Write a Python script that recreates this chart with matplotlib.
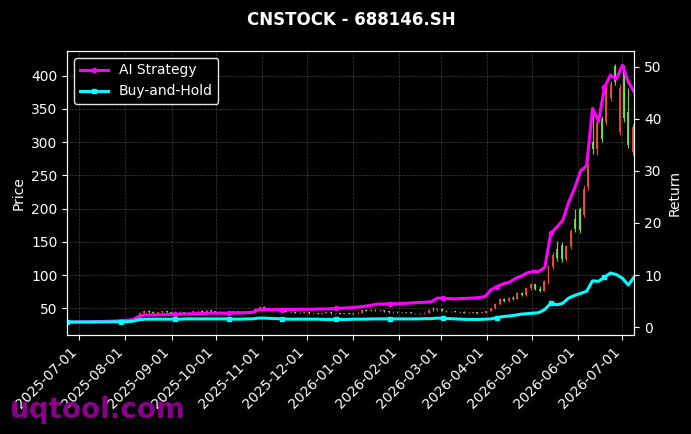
import matplotlib
matplotlib.use('Agg')
import matplotlib.pyplot as plt
import matplotlib.dates as mdates
import numpy as np
import pandas as pd

# cumulative return curves, every ~4 days (2025-06-23 .. 2026-07-09)
ai_strategy = [1.0, 1.0, 1.02, 1.05, 1.05, 1.1, 1.1, 1.15, 1.2, 1.25,
               1.35, 1.5, 2.1, 2.35, 2.35, 2.4, 2.4, 2.45, 2.5, 2.5,
               2.55, 2.6, 2.6, 2.65, 2.7, 2.7, 2.7, 2.7, 2.75, 2.75,
               2.8, 2.85, 3.35, 3.4, 3.4, 3.4, 3.4, 3.4, 3.4, 3.45,
               3.45, 3.45, 3.5, 3.5, 3.55, 3.6, 3.65, 3.7, 3.8, 3.9,
               4.05, 4.25, 4.45, 4.45, 4.5, 4.5, 4.55, 4.6, 4.7, 4.75,
               4.8, 4.9, 5.6, 5.55, 5.5, 5.45, 5.5, 5.55, 5.6, 5.7,
               5.9, 7.2, 7.8, 8.3, 8.6, 9.3, 9.8, 10.4, 10.7, 10.7,
               11.5, 18.0, 19.2, 20.5, 24.0, 26.7, 30.0, 31.0, 42.0, 39.5,
               46.0, 48.4, 47.6, 50.3, 47.0, 45.1]
buy_hold = [1.0, 1.0, 1.0, 1.0, 1.0, 1.02, 1.02, 1.03, 1.05, 1.05,
            1.07, 1.15, 1.45, 1.55, 1.55, 1.55, 1.55, 1.55, 1.55, 1.55,
            1.6, 1.6, 1.6, 1.6, 1.6, 1.6, 1.6, 1.6, 1.55, 1.55,
            1.6, 1.6, 1.75, 1.75, 1.7, 1.65, 1.6, 1.55, 1.55, 1.55,
            1.55, 1.55, 1.55, 1.5, 1.5, 1.5, 1.5, 1.5, 1.55, 1.55,
            1.55, 1.6, 1.6, 1.6, 1.6, 1.6, 1.6, 1.6, 1.6, 1.6,
            1.65, 1.65, 1.75, 1.7, 1.65, 1.6, 1.55, 1.5, 1.5, 1.5,
            1.55, 1.6, 1.85, 2.05, 2.15, 2.3, 2.5, 2.6, 2.7, 2.8,
            3.4, 4.6, 4.3, 4.6, 5.6, 6.1, 6.5, 6.9, 8.9, 8.8,
            9.6, 10.4, 10.1, 9.4, 8.1, 9.7]

# price candles, read every ~3 days (2025-06-24 .. 2026-07-08)
opens = [29.5, 30.0, 29.8, 30.2, 29.9, 29.6, 30.1, 30.8, 30.3, 30.6,
         31.0, 30.7, 31.2, 31.6, 32.2, 31.5, 36.0, 43.5, 46.5, 44.0,
         43.0, 44.2, 45.8, 44.5, 43.5, 45.2, 44.0, 43.0, 43.8, 45.5,
         46.8, 45.0, 47.2, 45.6, 44.5, 44.8, 43.6, 44.2, 46.0, 44.8,
         43.8, 44.6, 43.9, 49.0, 52.5, 49.5, 47.8, 46.8, 47.6, 46.0,
         44.6, 45.2, 43.8, 43.2, 44.2, 42.6, 43.4, 42.0, 42.8, 44.0,
         42.8, 43.2, 42.0, 42.6, 41.8, 42.4, 43.6, 47.0, 46.4, 48.2,
         47.0, 48.0, 45.8, 44.4, 45.0, 43.6, 42.9, 44.0, 43.0, 43.4,
         42.5, 43.6, 48.0, 47.2, 49.8, 46.8, 45.4, 46.2, 44.6, 45.2,
         43.6, 43.0, 44.0, 42.8, 43.5, 46.0, 50.0, 56.5, 63.5, 61.0,
         65.5, 64.0, 72.5, 69.5, 80.0, 86.0, 78.5, 76.5, 88.0, 112.0,
         140.0, 145.0, 124.0, 144.0, 185.0, 200.0, 190.0, 232.0, 300.0, 290.0,
         335.0, 330.0, 366.0, 414.0, 315.0, 410.0, 346.0, 285.0]
highs = [30.5, 30.8, 30.6, 31.0, 30.5, 30.4, 31.2, 31.5, 31.0, 31.4,
         31.8, 31.5, 32.0, 32.6, 32.6, 32.5, 44.5, 48.0, 47.0, 45.5,
         44.8, 46.5, 46.2, 45.0, 45.8, 45.6, 45.0, 44.2, 46.0, 47.5,
         47.2, 47.8, 48.0, 46.2, 45.5, 45.2, 44.6, 46.5, 46.4, 45.4,
         45.0, 45.2, 50.0, 54.0, 53.0, 50.2, 48.5, 48.2, 48.0, 46.6,
         45.8, 45.6, 44.6, 44.8, 44.6, 43.8, 43.8, 43.2, 44.5, 44.4,
         43.6, 43.8, 43.0, 43.2, 42.8, 44.0, 47.5, 49.5, 48.8, 49.0,
         48.6, 48.4, 46.2, 45.6, 45.4, 44.2, 44.5, 44.3, 43.8, 43.8,
         44.0, 48.5, 52.0, 50.5, 50.2, 47.4, 46.8, 46.6, 45.8, 45.6,
         44.2, 44.6, 44.4, 44.5, 46.5, 51.0, 58.0, 66.0, 65.0, 66.5,
         68.0, 74.0, 75.0, 82.0, 88.0, 87.0, 84.0, 92.0, 115.0, 135.0,
         152.0, 150.0, 146.0, 170.0, 200.0, 203.0, 235.0, 268.0, 342.0, 338.0,
         340.0, 385.0, 392.0, 417.0, 388.0, 416.0, 382.0, 328.0]
lows = [29.0, 29.4, 29.2, 29.6, 29.1, 29.0, 29.7, 30.0, 29.6, 30.1,
        30.4, 30.2, 30.6, 31.0, 31.4, 31.0, 35.5, 41.5, 43.0, 42.5,
        42.0, 43.5, 43.8, 42.8, 43.0, 43.2, 42.5, 42.2, 43.4, 44.8,
        44.5, 44.6, 45.0, 44.0, 43.4, 43.0, 42.8, 43.8, 44.2, 43.2,
        43.0, 43.2, 43.5, 48.0, 48.5, 47.0, 46.2, 46.0, 45.5, 44.0,
        43.8, 43.2, 42.6, 42.8, 42.0, 41.8, 41.5, 41.2, 42.4, 42.2,
        41.6, 41.4, 41.0, 41.2, 40.8, 42.0, 43.2, 45.8, 45.6, 46.5,
        46.0, 45.2, 43.8, 43.6, 43.0, 42.4, 42.6, 42.5, 42.2, 42.0,
        42.2, 43.2, 46.5, 46.8, 46.2, 44.8, 45.0, 44.0, 43.8, 43.0,
        42.4, 42.8, 42.2, 42.4, 43.0, 45.5, 49.5, 55.5, 59.5, 60.2,
        63.0, 63.5, 68.0, 69.0, 78.0, 77.0, 75.0, 76.0, 86.0, 110.0,
        122.0, 120.0, 122.0, 140.0, 165.0, 163.0, 188.0, 228.0, 282.0, 281.0,
        300.0, 326.0, 362.0, 386.0, 310.0, 330.0, 291.0, 280.0]
closes = [30.0, 29.8, 30.2, 29.9, 29.6, 30.1, 30.8, 30.3, 30.6, 31.0,
          30.7, 31.2, 31.6, 32.2, 31.8, 32.0, 43.5, 46.5, 44.0, 43.0,
          44.2, 45.8, 44.5, 43.5, 45.2, 44.0, 43.0, 43.8, 45.5, 46.8,
          45.0, 47.2, 45.6, 44.5, 44.8, 43.6, 44.2, 46.0, 44.8, 43.8,
          44.6, 43.9, 49.0, 52.5, 49.5, 47.8, 46.8, 47.6, 46.0, 44.6,
          45.2, 43.8, 43.2, 44.2, 42.6, 43.4, 42.0, 42.8, 44.0, 42.8,
          43.2, 42.0, 42.6, 41.8, 42.4, 43.6, 47.0, 46.4, 48.2, 47.0,
          48.0, 45.8, 44.4, 45.0, 43.6, 42.9, 44.0, 43.0, 43.4, 42.5,
          43.6, 48.0, 47.2, 49.8, 46.8, 45.4, 46.2, 44.6, 45.2, 43.6,
          43.0, 44.0, 42.8, 44.2, 46.0, 50.0, 56.5, 63.5, 61.0, 65.5,
          64.0, 72.5, 69.5, 80.0, 86.0, 78.5, 76.5, 90.5, 112.0, 130.0,
          126.0, 124.0, 144.0, 166.0, 170.0, 168.0, 230.0, 262.0, 290.0, 330.0,
          305.0, 378.0, 388.0, 390.0, 382.0, 336.0, 296.0, 322.0]

line_dates = pd.date_range('2025-06-23', '2026-07-09', periods=len(ai_strategy))
candle_dates = pd.date_range('2025-06-24', '2026-07-08', periods=len(opens))

plt.style.use('dark_background')
fig, ax = plt.subplots(figsize=(6.91, 4.34), dpi=100)
fig.subplots_adjust(left=0.0975, right=0.918, bottom=0.228, top=0.8825)

# candlesticks (red = up, green = down, A-share convention)
o = np.array(opens)
c = np.array(closes)
cx = mdates.date2num(candle_dates)
colors = np.where(c >= o, '#f0503c', '#86dc4c')
ax.vlines(cx, lows, highs, colors=colors, linewidth=0.9, alpha=0.9)
ax.bar(cx, np.abs(c - o), bottom=np.minimum(o, c), width=1.3,
       color=colors, alpha=0.9, linewidth=0)

ax.set_ylim(10, 437)
ax.set_xlim(pd.Timestamp('2025-06-23'), pd.Timestamp('2026-07-09'))
ax.set_ylabel('Price')
ax.grid(True, linestyle='--', linewidth=0.5, color='gray', alpha=0.5)
ax.xaxis.set_major_locator(mdates.MonthLocator())
ax.xaxis.set_major_formatter(mdates.DateFormatter('%Y-%m-%d'))
plt.setp(ax.get_xticklabels(), rotation=45, ha='right')

ax2 = ax.twinx()
ax2.plot(line_dates, ai_strategy, color='#ff00ff', linewidth=2.2,
         marker='o', markersize=3, markevery=9, label='AI Strategy')
ax2.plot(line_dates, buy_hold, color='#00ffff', linewidth=2.2,
         marker='s', markersize=3, markevery=9, label='Buy-and-Hold')
ax2.set_ylim(-1.5, 53)
ax2.set_ylabel('Return')

leg = ax2.legend(loc='upper left', facecolor='black', edgecolor='white',
                 fontsize=10, framealpha=0.9)

ax.set_title('CNSTOCK - 688146.SH', fontsize=12, fontweight='bold', pad=19)

fig.text(0.014, 0.036, 'uqtool.com', fontsize=20, fontweight='bold',
         color='#8b008b', va='baseline')

fig.savefig('out.png', dpi=100)
